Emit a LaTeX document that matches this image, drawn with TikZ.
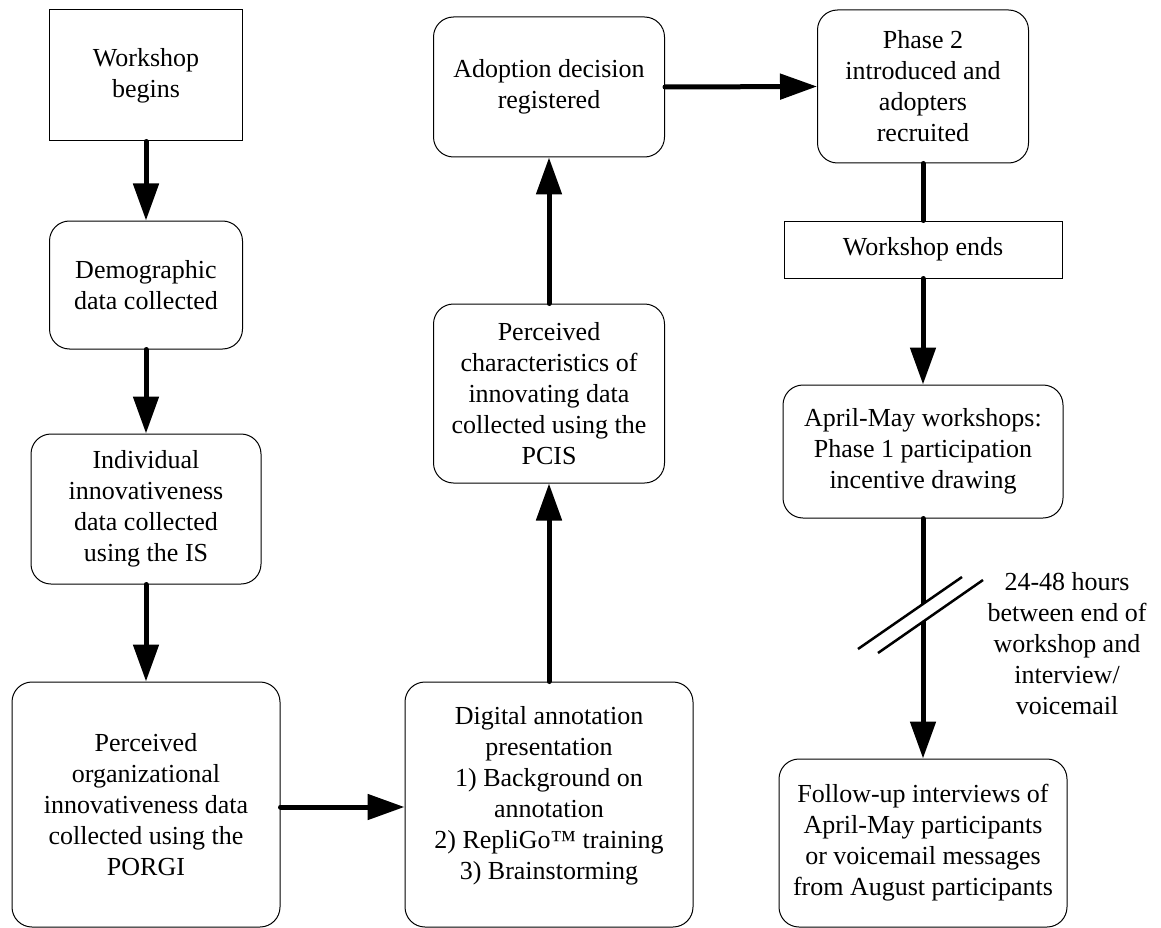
\documentclass[tikz,border=0pt]{standalone}
\usepackage{fontspec}
\setmainfont{Liberation Serif}
\usetikzlibrary{arrows.meta}
\newcommand\boxfont{\fontsize{26}{31}\selectfont}
\tikzset{
  rbox/.style={draw=black, line width=1pt, rounded corners=20pt, inner sep=0pt, align=center, font=\boxfont},
  sbox/.style={draw=black, line width=1pt, inner sep=0pt, align=center, font=\boxfont},
  txt/.style={inner sep=0pt, align=center, font=\boxfont},
  arr/.style={line width=5pt, line cap=round, -{Triangle[length=37pt,width=25pt]}},
  plainline/.style={line width=5pt, line cap=round},
  slash/.style={line width=2.5pt}
}
\begin{document}
\begin{tikzpicture}[x=1pt,y=-1pt]
\useasboundingbox (0,0) rectangle (1161,928);
% left column
\node[sbox, minimum width=193pt, minimum height=131pt] (wb) at (146,75.5) {Workshop\\begins};
\node[rbox, minimum width=193pt, minimum height=128pt] (dem) at (146,285) {Demographic\\data collected};
\node[rbox, minimum width=230pt, minimum height=150pt] (ind) at (146,509) {Individual\\innovativeness\\data collected\\using the IS};
\node[rbox, minimum width=268pt, minimum height=245pt] (porgi) at (146,804.5) {Perceived\\organizational\\innovativeness data\\collected using the\\PORGI};
% middle column
\node[rbox, minimum width=288pt, minimum height=245pt] (dig) at (549,804.5) {};
\node[txt] (digtxt) at (549,796) {Digital annotation\\presentation\\1) Background on\\annotation\\2) RepliGo™ training\\3) Brainstorming};
\node[rbox, minimum width=231pt, minimum height=179pt] (pcis) at (549,393.5) {Perceived\\characteristics of\\innovating data\\collected using the\\PCIS};
\node[rbox, minimum width=231pt, minimum height=140pt] (ado) at (549,87) {Adoption decision\\registered};
% right column
\node[rbox, minimum width=211pt, minimum height=153pt] (ph2) at (923,86.5) {Phase 2\\introduced and\\adopters\\recruited};
\node[sbox, minimum width=278pt, minimum height=57pt] (we) at (923,249.5) {Workshop ends};
\node[rbox, minimum width=280pt, minimum height=133pt] (apr) at (923,451.5) {April-May workshops:\\Phase 1 participation\\incentive drawing};
\node[rbox, minimum width=288pt, minimum height=168pt] (fu) at (923,843) {Follow-up interviews of\\April-May participants\\or voicemail messages\\from August participants};
\node[txt] (lbl) at (1067,644) {24-48 hours\\between end of\\workshop and\\interview/\\voicemail};
% connectors
\draw[arr] (wb.south) -- (dem.north);
\draw[arr] (dem.south) -- (ind.north);
\draw[arr] (ind.south) -- (porgi.north);
\draw[arr] ([yshift=-2.5pt]porgi.east) -- ([yshift=-2.5pt]dig.west);
\draw[arr] (dig.north) -- (pcis.south);
\draw[arr] (pcis.north) -- (ado.south);
\draw[arr] (ado.east) -- (ph2.west);
\draw[plainline] (ph2.south) -- (we.north);
\draw[arr] (we.south) -- (apr.north);
\draw[arr] (apr.south) -- (fu.north);
% break mark
\coordinate (s1a) at (858,649);
\coordinate (s1b) at (962,577);
\coordinate (s2a) at (878,653);
\coordinate (s2b) at (983,580);
\fill[white] (916,609) -- (930,599.3) -- (930,617) -- (916,626.6) -- cycle;
\draw[slash] (s1a) -- (s1b);
\draw[slash] (s2a) -- (s2b);
\end{tikzpicture}
\end{document}
